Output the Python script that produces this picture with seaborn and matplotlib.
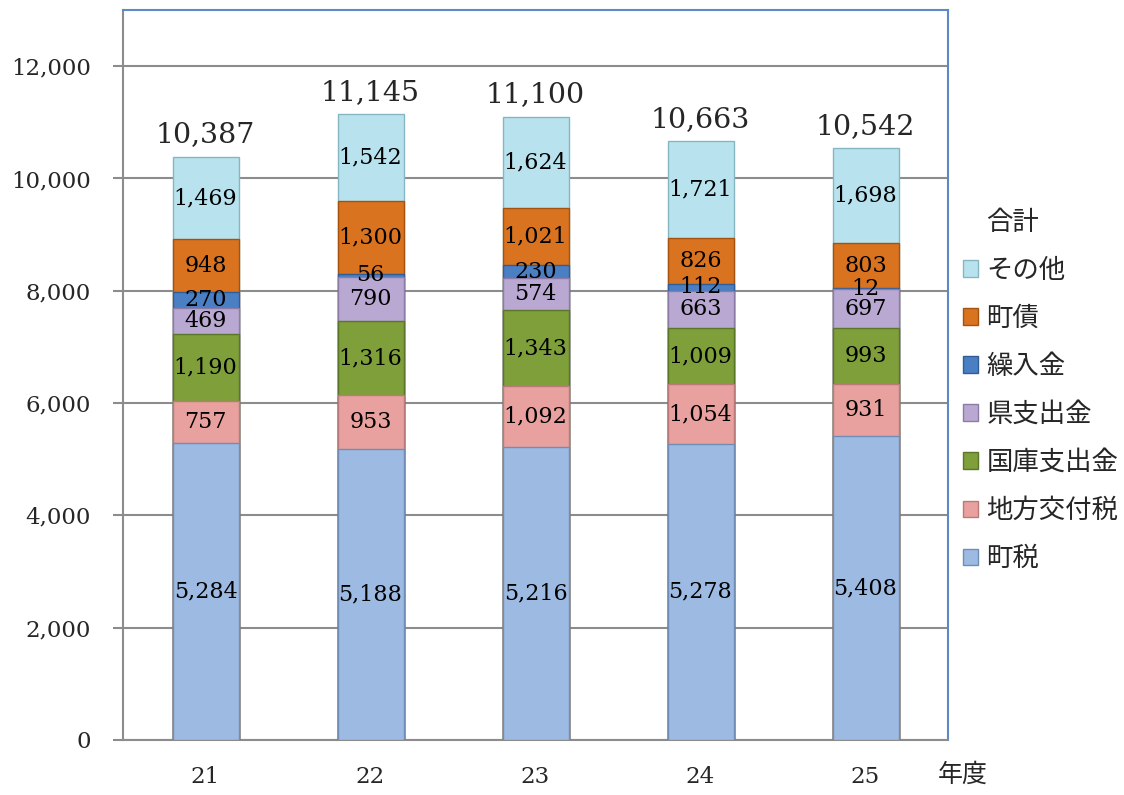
import seaborn as sns
import matplotlib
import matplotlib.pyplot as plt
from matplotlib.patches import Patch
from matplotlib.ticker import FuncFormatter, FixedLocator
import numpy as np

matplotlib.use("Agg")

# data
years = ["21", "22", "23", "24", "25"]
categories = ["町税", "地方交付税", "国庫支出金", "県支出金", "繰入金", "町債", "その他"]
town_tax = [5284, 5188, 5216, 5278, 5408]
local_alloc_tax = [757, 953, 1092, 1054, 931]
national_subsidy = [1190, 1316, 1343, 1009, 993]
pref_subsidy = [469, 790, 574, 663, 697]
transfers = [270, 56, 230, 112, 12]
town_bonds = [948, 1300, 1021, 826, 803]
other = [1469, 1542, 1624, 1721, 1698]
totals = [10387, 11145, 11100, 10663, 10542]

series = [town_tax, local_alloc_tax, national_subsidy, pref_subsidy,
          transfers, town_bonds, other]
colors = ["#9dbbe2", "#e8a19f", "#7e9f3a", "#b9a8d2", "#4a7fc4", "#d9731f", "#b8e3ee"]
edges = ["#6f8db5", "#b97b79", "#5a7629", "#8b7ba6", "#2f5d95", "#a5520f", "#86b6c2"]

sns.set_style("white")
serif = "DejaVu Serif"
jp = ["Noto Sans CJK JP", "DejaVu Sans"]

fig = plt.figure(figsize=(11.24, 7.95), dpi=100)
ax = fig.add_axes([123 / 1124, 1 - 740 / 795, 825 / 1124, 730 / 795])

vals = np.array(series)
cum = vals.cumsum(axis=0)

# draw cumulative bars from the top layer down so each lower layer covers the rest
for i in range(len(series) - 1, -1, -1):
    sns.barplot(x=years, y=cum[i], color=colors[i], width=0.4, ax=ax,
                edgecolor=edges[i], linewidth=1.0, saturation=1, zorder=3)

for i in range(len(series)):
    for j in range(len(years)):
        mid = cum[i][j] - vals[i][j] / 2
        ax.text(j, mid, f"{vals[i][j]:,}", ha="center", va="center",
                fontsize=16, family=serif, color="black", zorder=5)

for j, t in enumerate(totals):
    ax.annotate(f"{t:,}", xy=(j, cum[-1][j]), xytext=(0, 6), textcoords="offset points",
                ha="center", va="bottom", fontsize=20.5, family=serif, zorder=5)

ax.set_xlim(-0.5, 4.5)
ax.set_ylim(0, 13000)
ax.set_yticks(range(0, 12001, 2000))
ax.yaxis.set_major_formatter(FuncFormatter(lambda v, p: f"{int(v):,}"))
ax.grid(axis="y", color="#8c8c8c", linewidth=1.5, zorder=0)
ax.set_axisbelow(True)

ax.xaxis.set_minor_locator(FixedLocator(np.arange(-0.5, 5, 1)))
ax.tick_params(axis="x", which="major", length=0, pad=19)
ax.tick_params(axis="x", which="minor", length=7, width=1.5, color="#8c8c8c")
ax.tick_params(axis="y", length=7, width=1.5, color="#8c8c8c", pad=16, left=True)
for lab in ax.get_xticklabels() + ax.get_yticklabels():
    lab.set_family(serif)
    lab.set_fontsize(16.5)

for s in ["left", "bottom"]:
    ax.spines[s].set_color("#8c8c8c")
    ax.spines[s].set_linewidth(1.5)
for s in ["top", "right"]:
    ax.spines[s].set_color("#5b8ac6")
    ax.spines[s].set_linewidth(1.5)
ax.set_xlabel("")
ax.set_ylabel("")

fig.text(963 / 1124, 1 - 775 / 795, "年度", ha="center", va="center",
         fontsize=18, family=jp)

handles = [Patch(visible=False)]
labels = ["合計"]
for i in range(len(series) - 1, -1, -1):
    handles.append(Patch(facecolor=colors[i], edgecolor=edges[i]))
    labels.append(categories[i])
leg = fig.legend(handles, labels, loc="upper left", bbox_to_anchor=(952 / 1124, 1 - 198 / 795),
                 frameon=False, prop={"family": jp, "size": 19},
                 handlelength=0.6, handleheight=0.6, handletextpad=0.3,
                 labelspacing=0.8, borderaxespad=0)

fig.savefig("out.png", dpi=100)
